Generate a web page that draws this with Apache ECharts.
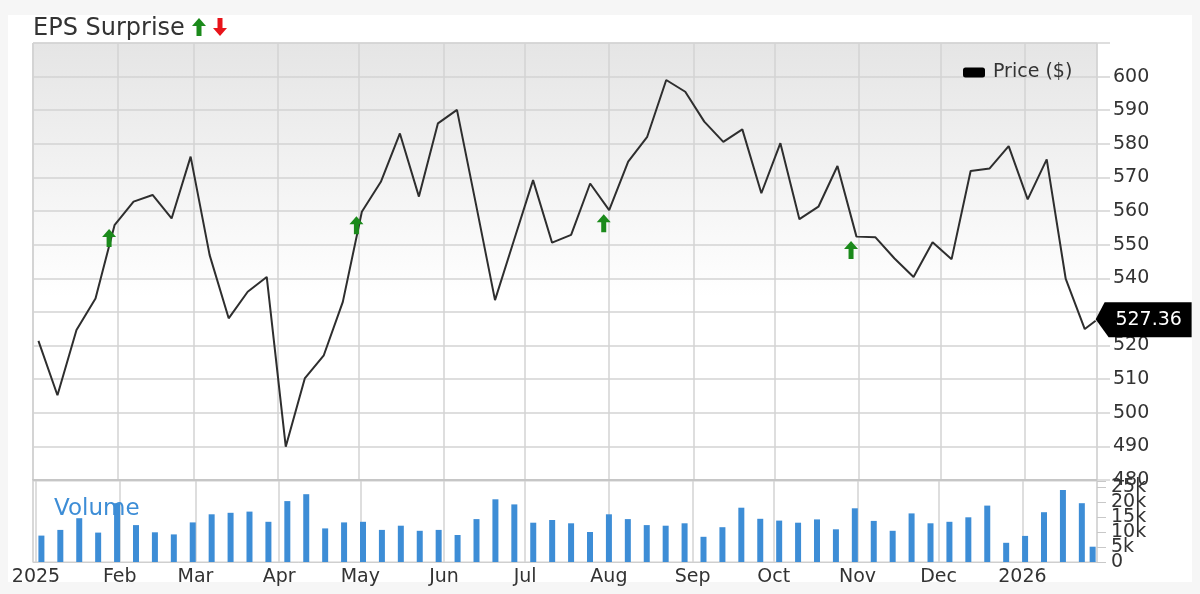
<!DOCTYPE html>
<html>
<head>
<meta charset="utf-8">
<script src="https://cdn.jsdelivr.net/npm/echarts@6/dist/echarts.min.js"></script>
<style>
  html, body { margin: 0; padding: 0; background: #f6f6f6; }
  #card { position: absolute; left: 8px; top: 15px; width: 1184px; height: 567px; background: #ffffff; }
  #chart { position: absolute; left: 0; top: 0; width: 1200px; height: 594px; }
</style>
</head>
<body>
<div id="card"></div>
<div id="chart"></div>
<script>
// ---- data ----
const dates = [
  '2025-01-03','2025-01-10','2025-01-17','2025-01-24','2025-01-31',
  '2025-02-07','2025-02-14','2025-02-21','2025-02-28',
  '2025-03-07','2025-03-14','2025-03-21','2025-03-28',
  '2025-04-04','2025-04-11','2025-04-18','2025-04-25',
  '2025-05-02','2025-05-09','2025-05-16','2025-05-23','2025-05-30',
  '2025-06-06','2025-06-13','2025-06-20','2025-06-27',
  '2025-07-04','2025-07-11','2025-07-18','2025-07-25',
  '2025-08-01','2025-08-08','2025-08-15','2025-08-22','2025-08-29',
  '2025-09-05','2025-09-12','2025-09-19','2025-09-26',
  '2025-10-03','2025-10-10','2025-10-17','2025-10-24','2025-10-31',
  '2025-11-07','2025-11-14','2025-11-21','2025-11-28',
  '2025-12-05','2025-12-12','2025-12-19','2025-12-26',
  '2026-01-02','2026-01-09','2026-01-16','2026-01-23','2026-01-27'
];
const prices = [
  521.4, 505.2, 524.6, 534.0, 555.8, 562.8, 564.8, 557.8, 576.2, 546.9,
  528.1, 536.0, 540.4, 489.9, 510.2, 517.1, 533.0, 559.8, 568.7, 583.1,
  564.3, 586.1, 590.1, 562.0, 533.5, 551.4, 569.2, 550.6, 552.9, 568.2,
  560.3, 574.7, 582.1, 599.0, 595.5, 586.6, 580.6, 584.3, 565.3, 580.2,
  557.6, 561.3, 573.4, 552.4, 552.2, 545.9, 540.4, 550.7, 545.7, 571.9,
  572.7, 579.3, 563.5, 575.4, 539.8, 524.9, 527.36
];
// volume in thousands
const volumes = [
  8.8, 10.7, 14.6, 9.8, 19.6, 12.3, 9.9, 9.2, 13.2, 15.9,
  16.4, 16.8, 13.4, 20.3, 22.6, 11.2, 13.2, 13.4, 10.7, 12.1,
  10.4, 10.7, 9.0, 14.3, 20.9, 19.2, 13.1, 14.0, 12.9, 10.0,
  15.9, 14.3, 12.3, 12.1, 12.9, 8.4, 11.6, 18.1, 14.4, 13.8,
  13.1, 14.2, 10.9, 17.9, 13.7, 10.4, 16.2, 12.9, 13.4, 14.9,
  18.8, 6.4, 8.7, 16.6, 24.0, 19.6, 5.1
];
const epsDates = ['2025-01-29', '2025-04-30', '2025-07-30', '2025-10-29'];
const epsLevels = [552.0, 555.8, 556.4, 548.4];
const monthNames = ['Jan','Feb','Mar','Apr','May','Jun','Jul','Aug','Sep','Oct','Nov','Dec'];
const xMin = '2025-01-01 00:00:00';
const xMax = '2026-01-27 12:00:00';

// ---- chart ----
const FONT = 'DejaVu Sans';
const GRID_LINE = '#d3d3d3';
const VOL_BLUE = '#3d8dd6';
const chart = echarts.init(document.getElementById('chart'), null, { renderer: 'canvas' });

const toLocal = s => s.length === 10 ? s + ' 00:00:00' : s;
const priceData = dates.map((d, i) => [toLocal(d), prices[i]]);
const volData = dates.map((d, i) => [toLocal(d), volumes[i]]);
const epsData = epsDates.map((d, i) => [toLocal(d), epsLevels[i]]);
const lastIdx = prices.length - 1;

const xLabelFmt = function (v) {
  const val = typeof v === 'object' && v !== null && 'value' in v ? v.value : v;
  const d = new Date(val);
  if (d.getDate() !== 1 || d.getHours() !== 0) return '';
  return d.getMonth() === 0 ? String(d.getFullYear()) : monthNames[d.getMonth()];
};
const upArrow = 'path://M7,0 L14,8 L9.5,8 L9.5,18 L4.5,18 L4.5,8 L0,8 Z';
const upPts = [[7,0],[14,8],[9.5,8],[9.5,18],[4.5,18],[4.5,8],[0,8]];
const downPts = [[7,18],[14,10],[9.5,10],[9.5,0],[4.5,0],[4.5,10],[0,10]];

const volAxisBase = {
  type: 'value', gridIndex: 1, position: 'right', min: 0, max: 27, interval: 5,
  axisLine: { show: false }, splitLine: { show: false }
};

chart.setOption({
  animation: false,
  textStyle: { fontFamily: FONT },
  title: [
    { text: 'EPS Surprise', left: 28, top: 12,
      textStyle: { fontFamily: FONT, fontSize: 24, fontWeight: 'normal', color: '#333' } },
    { text: 'Volume', left: 49, top: 493,
      textStyle: { fontFamily: FONT, fontSize: 23, fontWeight: 'normal', color: VOL_BLUE } }
  ],
  graphic: [
    { type: 'polygon', x: 192, y: 18, shape: { points: upPts }, style: { fill: '#1b8a1b' } },
    { type: 'polygon', x: 213, y: 18, shape: { points: downPts }, style: { fill: '#e8141a' } }
  ],
  legend: {
    data: [{ name: 'Price ($)', icon: 'roundRect' }],
    left: 958, top: 58,
    itemWidth: 22, itemHeight: 10, itemGap: 10,
    textStyle: { fontFamily: FONT, fontSize: 19, color: '#333', padding: [0, 0, 0, 3] }
  },
  grid: [
    { left: 33, right: 103, top: 43, height: 437, show: true, borderColor: '#cfcfcf', borderWidth: 1,
      backgroundColor: {
        type: 'linear', x: 0, y: 0, x2: 0, y2: 1,
        colorStops: [
          { offset: 0, color: '#e5e5e5' }, { offset: 0.58, color: '#ffffff' }, { offset: 1, color: '#ffffff' }
        ]
      } },
    { left: 33, right: 103, top: 481, height: 81, show: true, borderColor: '#cfcfcf', borderWidth: 1,
      backgroundColor: '#ffffff' }
  ],
  xAxis: [
    { type: 'time', gridIndex: 0, min: xMin, max: xMax, splitNumber: 13,
      axisLabel: { show: false }, axisTick: { show: false },
      axisLine: { show: true, lineStyle: { color: '#c6c6c6', width: 2 } },
      splitLine: { show: true, lineStyle: { color: GRID_LINE, width: 1.5 } } },
    { type: 'time', gridIndex: 1, min: xMin, max: xMax, splitNumber: 13,
      axisLabel: { show: true, formatter: xLabelFmt, fontFamily: FONT, fontSize: 19, color: '#333',
                   margin: 6, showMinLabel: true, hideOverlap: false },
      axisTick: { show: false },
      axisLine: { show: true, lineStyle: { color: '#cfcfcf', width: 1 } },
      splitLine: { show: true, lineStyle: { color: GRID_LINE, width: 1.5 } } }
  ],
  yAxis: [
    { type: 'value', gridIndex: 0, position: 'right', min: 480, max: 610, interval: 10,
      axisLine: { show: false },
      axisTick: { show: true, length: 13, lineStyle: { color: GRID_LINE, width: 1.5 } },
      axisLabel: { margin: 16, fontFamily: FONT, fontSize: 19, color: '#333', showMinLabel: true,
                   hideOverlap: false,
                   formatter: v => (v === 610 ? '' : String(v)) },
      splitLine: { show: true, lineStyle: { color: GRID_LINE, width: 1.5 } } },
    Object.assign({}, volAxisBase, {
      axisTick: { show: true, length: 9, lineStyle: { color: '#c8c8c8' } },
      axisLabel: { margin: 14, fontFamily: FONT, fontSize: 19, color: '#333', hideOverlap: false,
                   formatter: v => (v % 5 !== 0 || v === 0 ? '' : v + 'k') }
    }),
    Object.assign({}, volAxisBase, {
      axisTick: { show: false },
      axisLabel: { margin: 14, fontFamily: FONT, fontSize: 19, color: '#333', showMinLabel: true,
                   hideOverlap: false,
                   formatter: v => (v === 0 ? '0' : '') }
    })
  ],
  series: [
    { name: 'Price ($)', type: 'line', xAxisIndex: 0, yAxisIndex: 0, data: priceData,
      showSymbol: false, color: '#000',
      lineStyle: { color: '#2e2e2e', width: 2 }, z: 3,
      markPoint: {
        symbol: 'path://M0,17 L9,0 L96,0 L96,35 L13,35 Z',
        symbolSize: [96, 35], symbolOffset: [48, -1],
        itemStyle: { color: '#000' },
        label: { show: true, position: 'inside', offset: [5, 0], color: '#fff', fontFamily: FONT, fontSize: 19,
                 formatter: p => Number(p.value).toFixed(2) },
        data: [{ coord: [toLocal(dates[lastIdx]), prices[lastIdx]], value: prices[lastIdx] }]
      } },
    { name: 'EPS', type: 'scatter', xAxisIndex: 0, yAxisIndex: 0, data: epsData,
      symbol: upArrow, symbolSize: [14, 18], itemStyle: { color: '#1b8a1b', opacity: 1 }, z: 4 },
    { name: 'Volume', type: 'bar', xAxisIndex: 1, yAxisIndex: 1, data: volData,
      barWidth: 6, itemStyle: { color: VOL_BLUE }, z: 2 }
  ]
});
</script>
</body>
</html>
